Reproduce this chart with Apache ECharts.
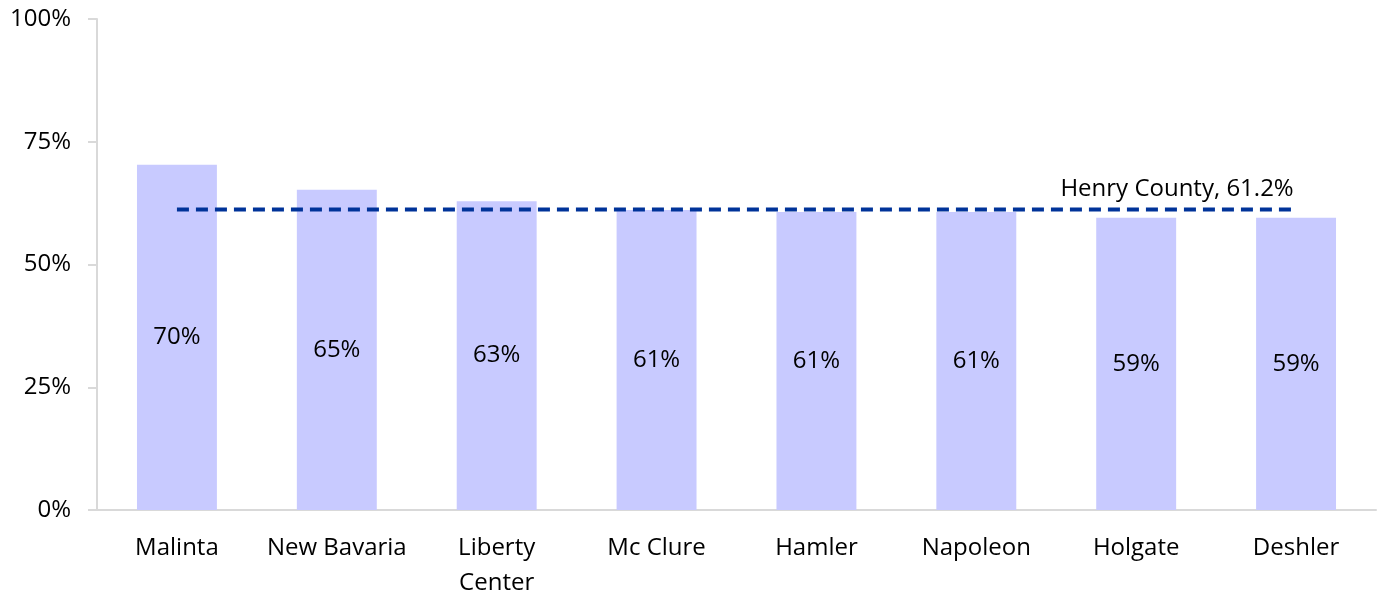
<!DOCTYPE html>
<html>
<head>
<meta charset="utf-8">
<script src="https://cdn.jsdelivr.net/npm/echarts@6/dist/echarts.min.js"></script>
<style>html,body{margin:0;padding:0;background:#fff;}#c{width:1380px;height:594px;}</style>
</head>
<body>
<div id="c"></div>
<script>
const categories = ['Malinta', 'New Bavaria', 'Liberty\nCenter', 'Mc Clure', 'Hamler', 'Napoleon', 'Holgate', 'Deshler'];
const values = [70.3, 65.2, 62.9, 61.1, 60.7, 60.7, 59.5, 59.5];
const barLabels = ['70%', '65%', '63%', '61%', '61%', '61%', '59%', '59%'];
const countyValue = 61.2;
const countyLabel = 'Henry County, 61.2%';
const yTicks = [0, 25, 50, 75, 100];

const FONT = '"Open Sans", "Liberation Sans", sans-serif';
const chart = echarts.init(document.getElementById('c'));

chart.setOption({
  animation: false,
  grid: { left: 97, right: 4, top: 19, bottom: 84, containLabel: false, outerBoundsMode: 'none' },
  xAxis: {
    type: 'category',
    data: categories,
    axisLine: { lineStyle: { color: '#d9d9d9', width: 2 } },
    axisTick: { show: false },
    axisLabel: { interval: 0, hideOverlap: false, color: '#000', fontSize: 24, fontFamily: FONT, margin: 21, lineHeight: 35 }
  },
  yAxis: {
    type: 'value',
    min: 0, max: 100, interval: 25,
    axisLine: { show: true, lineStyle: { color: '#d9d9d9', width: 2 } },
    axisTick: { show: true, length: 9, lineStyle: { color: '#d9d9d9', width: 2 } },
    splitLine: { show: false },
    axisLabel: { color: '#000', fontSize: 24, fontFamily: FONT, margin: 26, formatter: v => yTicks.includes(v) ? v + '%' : '' }
  },
  series: [
    {
      type: 'bar',
      data: values,
      barWidth: '50%',
      itemStyle: { color: '#c8caff' },
      label: { show: true, position: 'inside', color: '#000', fontSize: 24, fontFamily: FONT,
        formatter: p => barLabels[p.dataIndex] }
    },
    {
      type: 'line',
      data: categories.map(() => countyValue),
      symbol: 'none',
      lineStyle: { color: '#003399', width: 4, type: [12, 7] },
      z: 5,
      markPoint: {
        symbol: 'circle',
        symbolSize: 0,
        data: [{ coord: [categories[categories.length - 1], countyValue] }],
        label: { show: true, position: 'top', distance: 8, offset: [-119, 0], formatter: countyLabel,
          color: '#000', fontSize: 24, fontFamily: FONT }
      }
    }
  ]
});
</script>
</body>
</html>
